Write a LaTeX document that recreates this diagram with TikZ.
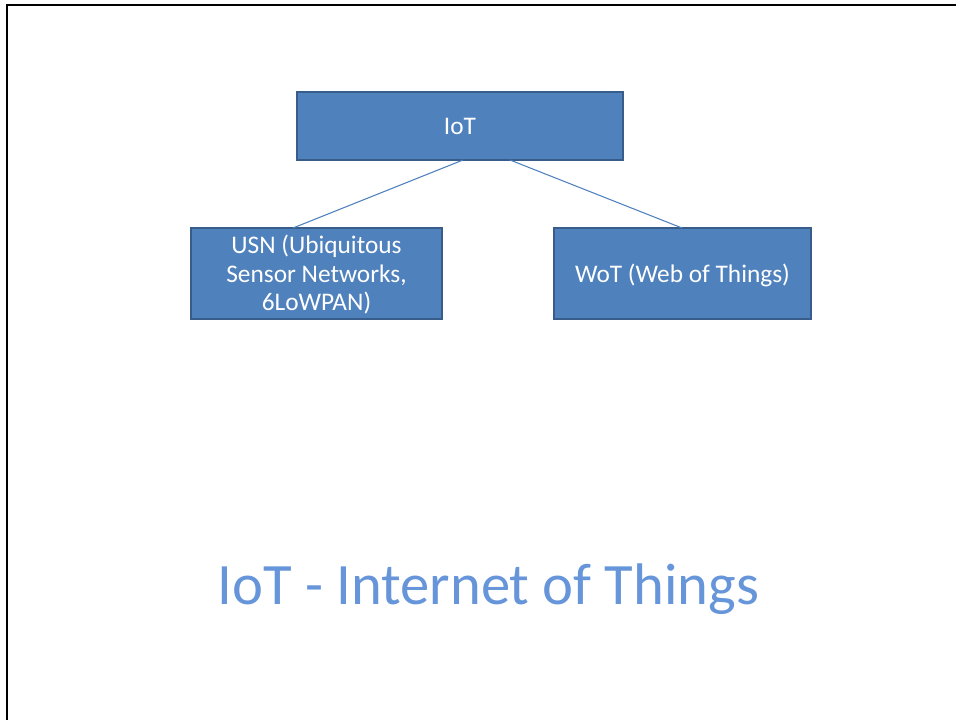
\documentclass[tikz,border=0pt]{standalone}
\usepackage{fontspec}
\setmainfont{Carlito}
\definecolor{boxfill}{HTML}{4F81BD}
\definecolor{boxedge}{HTML}{385D8A}
\definecolor{titleblue}{HTML}{6795DA}
% lower box captions slightly inside their boxes, keeping their nominal size
\newcommand{\boxcaption}[1]{\raisebox{-2.3pt}[\height][\depth]{\begin{tabular}{@{}c@{}}#1\end{tabular}}}
\begin{document}
\begin{tikzpicture}[x=0.75pt,y=-0.75pt,
  treebox/.style={draw=boxedge, line width=1.5pt, fill=boxfill, text=white,
    font=\fontsize{19}{21.4}\selectfont, inner sep=0pt},
  link/.style={draw=boxfill, line width=0.8pt}]
  \useasboundingbox (0,0) rectangle (956,720);
  \clip (0,0) rectangle (956,720);
  % slide frame
  \draw[line width=1.6pt] (7,730) -- (7,5) -- (970,5);
  % boxes
  \node[treebox, minimum width=326*0.75pt, minimum height=68*0.75pt] (iot) at (460,126) {\boxcaption{IoT}};
  \node[treebox, minimum width=251*0.75pt, minimum height=91*0.75pt] (usn) at (316.5,273.5)
    {\boxcaption{USN (Ubiquitous\\Sensor Networks,\\6LoWPAN)}};
  \node[treebox, minimum width=257*0.75pt, minimum height=91*0.75pt] (wot) at (682.5,273.5)
    {\boxcaption{WoT (Web of Things)}};
  % connectors
  \coordinate (iotA) at (463,160);
  \coordinate (iotB) at (510,160);
  \coordinate (usnT) at (293,228);
  \coordinate (wotT) at (682,228);
  \draw[link] (iotA) -- (usnT);
  \draw[link] (iotB) -- (wotT);
  % title
  \node[text=titleblue, font=\fontsize{44}{52}\selectfont, inner sep=0pt] (title) at (488.5,589) {IoT - Internet of Things};
\end{tikzpicture}
\end{document}
